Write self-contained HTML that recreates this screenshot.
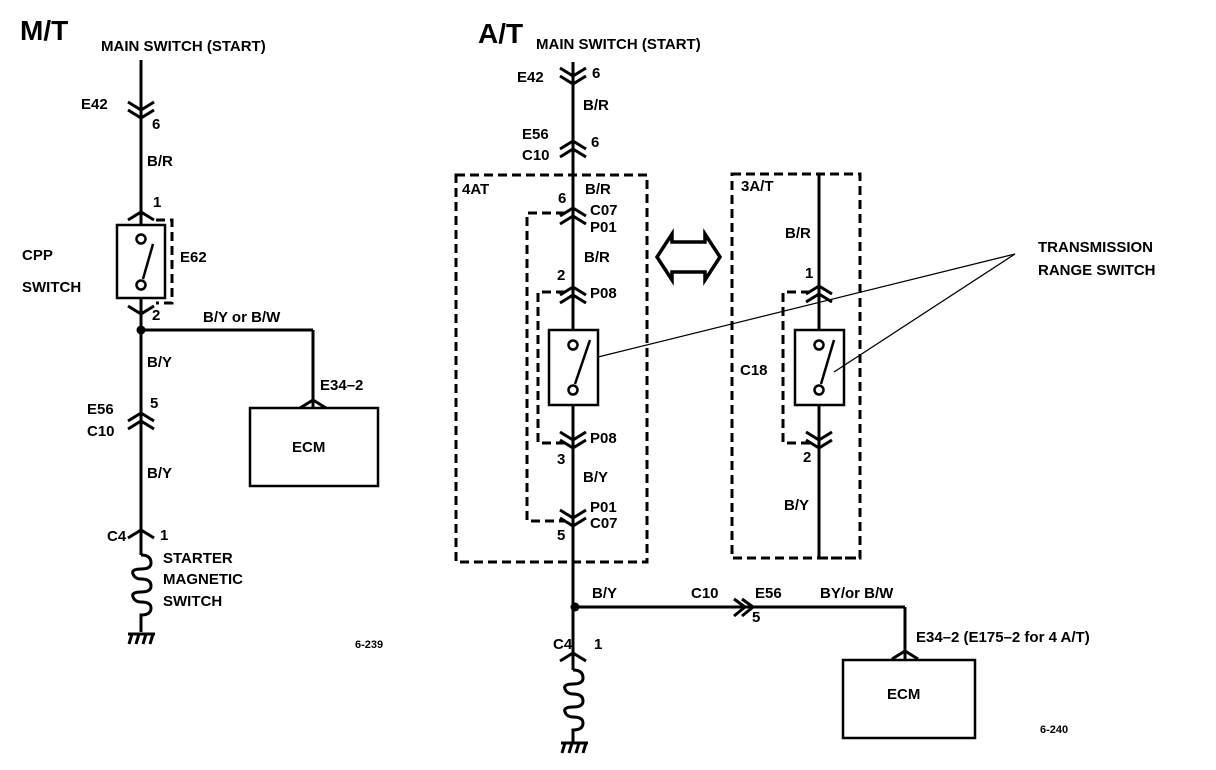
<!DOCTYPE html>
<html><head><meta charset="utf-8"><style>
body{margin:0;background:#fff}
svg{display:block}
text{font-family:"Liberation Sans",Arial,sans-serif;font-size:15px;font-weight:bold;fill:#000}
</style></head><body>
<svg width="1216" height="770" viewBox="0 0 1216 770" xmlns="http://www.w3.org/2000/svg">
<defs>
<path id="up" d="M-13,8 L0,0 L13,8" fill="none" stroke="#000" stroke-width="3"/>
<path id="dn" d="M-13,-8 L0,0 L13,-8" fill="none" stroke="#000" stroke-width="3"/>
</defs>
<g stroke="#000" fill="none" stroke-width="3">
<line x1="141" y1="60" x2="141" y2="225"/>
<line x1="141" y1="298" x2="141" y2="555"/>
<path d="M141,555 q10,0 10,8 q0,6 -10,6 q-10,0 -8,5 q2,5 8,5 q10,0 10,7 q0,6 -10,6 q-10,0 -8,5 q2,5 8,5 q10,0 10,6 q0,7 -10,7 L141,632"/>
<line x1="141" y1="330" x2="313" y2="330"/>
<line x1="313" y1="330" x2="313" y2="408"/>
<rect x="117" y="225" width="48" height="73" stroke-width="2.5"/>
<rect x="250" y="408" width="128" height="78" stroke-width="2.5"/>
<line x1="573" y1="62" x2="573" y2="330"/>
<line x1="573" y1="405" x2="573" y2="670"/>
<path d="M573,670 q10,0 10,8 q0,6 -10,6 q-10,0 -8,5 q2,5 8,5 q10,0 10,7 q0,6 -10,6 q-10,0 -8,5 q2,5 8,5 q10,0 10,6 q0,7 -10,7 L573,742"/>
<line x1="573" y1="607" x2="905" y2="607"/>
<line x1="905" y1="607" x2="905" y2="660"/>
<rect x="843" y="660" width="132" height="78" stroke-width="2.5"/>
<rect x="549" y="330" width="49" height="75" stroke-width="2.5"/>
<line x1="819" y1="174" x2="819" y2="330"/>
<line x1="819" y1="405" x2="819" y2="558"/>
<line x1="819" y1="558" x2="860" y2="558" stroke-dasharray="9,5"/>
<rect x="795" y="330" width="49" height="75" stroke-width="2.5"/>
<path d="M657,257 L672,234 L672,242 L705,242 L705,234 L720,257 L705,280 L705,272 L672,272 L672,280 Z" stroke-width="3.5"/>
</g>
<g stroke="#000" fill="#fff" stroke-width="2.5">
<circle cx="141" cy="239" r="4.5"/><circle cx="141" cy="285" r="4.5"/>
<circle cx="573" cy="345" r="4.5"/><circle cx="573" cy="390" r="4.5"/>
<circle cx="819" cy="345" r="4.5"/><circle cx="819" cy="390" r="4.5"/>
</g>
<g stroke="#000" stroke-width="2.5">
<line x1="143" y1="279" x2="153" y2="244"/>
<line x1="575" y1="384" x2="590" y2="340"/>
<line x1="821" y1="384" x2="834" y2="340"/>
</g>
<circle cx="141" cy="330" r="4.5" fill="#000"/>
<circle cx="575" cy="607" r="4.5" fill="#000"/>
<g stroke="#000" fill="none" stroke-width="3" stroke-dasharray="9,5">
<path d="M156,220 L172,220 L172,303 L156,303"/>
<rect x="456" y="175" width="191" height="387"/>
<rect x="732" y="174" width="128" height="384"/>
<path d="M565,213 L527,213 L527,521 L565,521"/>
<path d="M565,292 L538,292 L538,443 L565,443"/>
<path d="M810,292 L783,292 L783,443 L810,443"/>
</g>
<g stroke="#000" stroke-width="1.3">
<line x1="1015" y1="254" x2="598" y2="357"/>
<line x1="1015" y1="254" x2="834" y2="372"/>
</g>
<use href="#dn" x="141" y="110"/><use href="#dn" x="141" y="118"/>
<use href="#up" x="141" y="212"/>
<use href="#dn" x="141" y="314"/>
<use href="#up" x="141" y="413"/><use href="#up" x="141" y="421"/>
<use href="#up" x="141" y="530"/>
<use href="#up" x="313" y="400"/>
<use href="#dn" x="573" y="76"/><use href="#dn" x="573" y="84"/>
<use href="#up" x="573" y="141"/><use href="#up" x="573" y="149"/>
<use href="#up" x="573" y="208"/><use href="#up" x="573" y="216"/>
<use href="#up" x="573" y="287"/><use href="#up" x="573" y="295"/>
<use href="#dn" x="573" y="440"/><use href="#dn" x="573" y="448"/>
<use href="#dn" x="573" y="518"/><use href="#dn" x="573" y="526"/>
<use href="#up" x="819" y="286"/><use href="#up" x="819" y="294"/>
<use href="#dn" x="819" y="440"/><use href="#dn" x="819" y="448"/>
<use href="#up" x="573" y="653"/>
<use href="#up" x="905" y="651"/>
<path d="M734,599 L745,607 L734,616 M742,599 L753,607 L742,616" stroke="#000" stroke-width="3" fill="none"/>
<g stroke="#000" stroke-width="3">
<line x1="128" y1="634" x2="155" y2="634"/><line x1="132" y1="634" x2="129" y2="644"/><line x1="139" y1="634" x2="136" y2="644"/><line x1="146" y1="634" x2="143" y2="644"/><line x1="153" y1="634" x2="150" y2="644"/>
<line x1="561" y1="743" x2="588" y2="743"/><line x1="565" y1="743" x2="562" y2="753"/><line x1="572" y1="743" x2="569" y2="753"/><line x1="579" y1="743" x2="576" y2="753"/><line x1="586" y1="743" x2="583" y2="753"/>
</g>
<text x="20" y="40" style="font-size:28px">M/T</text>
<text x="101" y="51">MAIN SWITCH (START)</text>
<text x="81" y="109">E42</text><text x="152" y="129">6</text>
<text x="147" y="166">B/R</text>
<text x="153" y="207">1</text>
<text x="22" y="260">CPP</text><text x="22" y="292">SWITCH</text>
<text x="180" y="262">E62</text>
<text x="152" y="320">2</text>
<text x="203" y="322">B/Y or B/W</text>
<text x="147" y="367">B/Y</text>
<text x="320" y="390">E34–2</text>
<text x="87" y="414">E56</text><text x="87" y="436">C10</text><text x="150" y="408">5</text>
<text x="292" y="452">ECM</text>
<text x="147" y="478">B/Y</text>
<text x="107" y="541">C4</text><text x="160" y="540">1</text>
<text x="163" y="563">STARTER</text><text x="163" y="584">MAGNETIC</text><text x="163" y="606">SWITCH</text>
<text x="355" y="648" style="font-size:11px">6-239</text>
<text x="478" y="43" style="font-size:28px">A/T</text>
<text x="536" y="49">MAIN SWITCH (START)</text>
<text x="517" y="82">E42</text><text x="592" y="78">6</text>
<text x="583" y="110">B/R</text>
<text x="522" y="139">E56</text><text x="522" y="160">C10</text><text x="591" y="147">6</text>
<text x="462" y="194">4AT</text>
<text x="585" y="194">B/R</text><text x="558" y="203">6</text>
<text x="590" y="215">C07</text><text x="590" y="232">P01</text>
<text x="584" y="262">B/R</text>
<text x="557" y="280">2</text><text x="590" y="298">P08</text>
<text x="590" y="443">P08</text><text x="557" y="464">3</text>
<text x="583" y="482">B/Y</text>
<text x="590" y="512">P01</text><text x="590" y="528">C07</text><text x="557" y="540">5</text>
<text x="741" y="191">3A/T</text>
<text x="785" y="238">B/R</text>
<text x="805" y="278">1</text>
<text x="740" y="375">C18</text>
<text x="803" y="462">2</text>
<text x="784" y="510">B/Y</text>
<text x="1038" y="252">TRANSMISSION</text><text x="1038" y="275">RANGE SWITCH</text>
<text x="592" y="598">B/Y</text>
<text x="691" y="598">C10</text><text x="755" y="598">E56</text><text x="752" y="622">5</text>
<text x="820" y="598">BY/or B/W</text>
<text x="916" y="642">E34–2 (E175–2 for 4 A/T)</text>
<text x="887" y="699">ECM</text>
<text x="553" y="649">C4</text><text x="594" y="649">1</text>
<text x="1040" y="733" style="font-size:11px">6-240</text>
</svg>
</body></html>
